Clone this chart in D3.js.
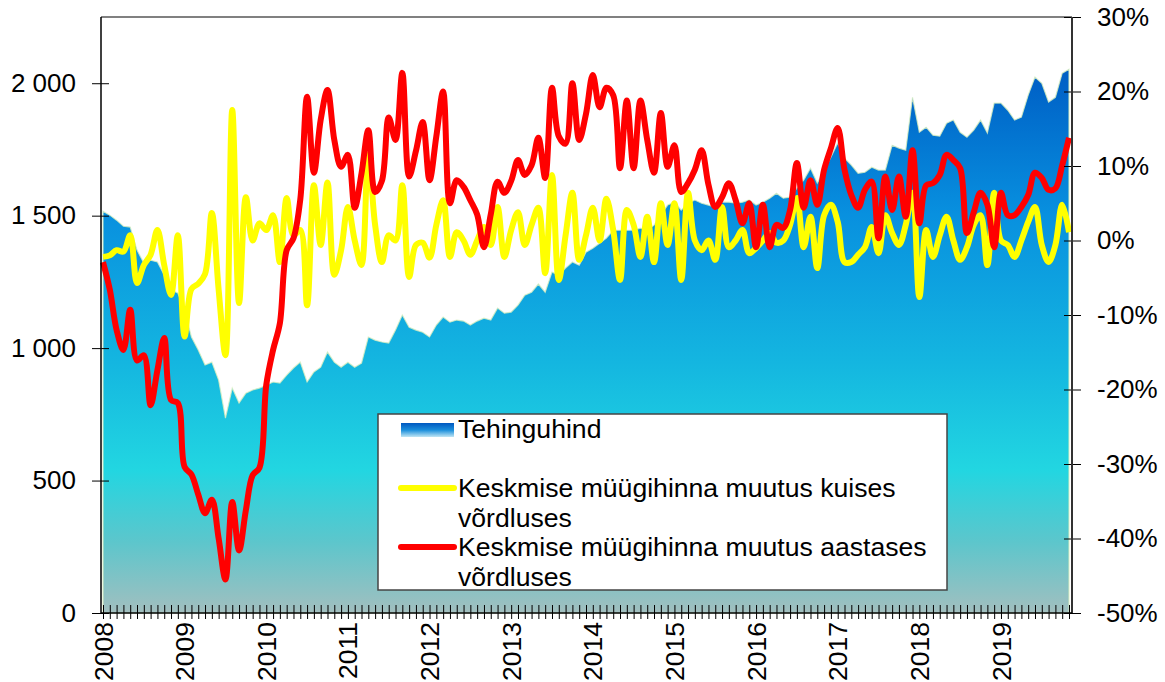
<!DOCTYPE html>
<html>
<head>
<meta charset="utf-8">
<script src="https://cdn.jsdelivr.net/npm/d3@7"></script>
<style>
  body { margin: 0; background: #fff; }
  svg { display: block; font-family: "Liberation Sans", Arial, sans-serif; }
</style>
</head>
<body>
<svg id="chart" width="1165" height="682"></svg>
<script>
// ---------- DATA ----------
const yearLabels = ["2008","2009","2010","2011","2012","2013","2014","2015","2016","2017","2018","2019"];
const leftTicks = [0, 500, 1000, 1500, 2000];
const rightTicks = [-50, -40, -30, -20, -10, 0, 10, 20, 30];

// Tehinguhind (EUR/m2), monthly Jan 2008 – Nov 2019
const tehinguhind = [
  1517,1502,1483,1460,1457,1370,1321,1332,1325,1276,1219,1208,
  1143,1042,993,936,947,879,736,849,793,830,842,849,
  860,872,868,898,925,947,872,910,928,985,947,928,
  947,928,943,1042,1030,1023,1019,1068,1125,1079,1068,1060,
  1042,1087,1117,1098,1106,1102,1087,1102,1113,1106,1151,1132,
  1136,1162,1200,1211,1242,1211,1287,1276,1302,1325,1313,1362,
  1377,1396,1415,1445,1445,1445,1445,1453,1445,1464,1502,1540,
  1551,1521,1547,1559,1547,1540,1532,1551,1551,1547,1551,1559,
  1540,1551,1566,1585,1566,1570,1604,1634,1679,1623,1672,1721,
  1774,1717,1691,1660,1664,1683,1672,1672,1766,1755,1747,1947,
  1815,1834,1804,1800,1849,1861,1815,1796,1823,1861,1812,1925,
  1925,1898,1861,1872,1955,2023,2000,1929,1947,2038,2053
];
// Keskmise müügihinna muutus kuises võrdluses (%)
const kuine = [
  -2.2,-2.0,-1.3,-1.5,0.7,-5.7,-3.3,-1.9,1.4,-3.3,-7.3,0.7,
  -12.9,-6.5,-5.8,-4.5,3.7,-6.6,-15.4,17.5,-8.4,5.8,0,2.3,
  1.4,3.4,-2.9,5.7,0.7,1.4,-8.7,7.4,-0.6,7.8,-4.6,-1.3,
  4.5,0,-3.3,11.5,2.1,-2.9,0.7,0,7.4,-4.9,-0.6,-0.3,
  -2.3,2.1,5.4,-2.2,1.1,0,-1.9,0,1.8,-0.6,4.5,-2.2,
  1.4,3.8,-0.6,2.1,4.4,-4.4,8.8,-5.3,0.7,6.4,-2.6,0.7,
  4.4,0,5.6,1.4,-5.3,4.1,2.1,-2.2,3.2,-2.9,5.0,-0.6,
  5.0,-5.3,6.4,0,-1.3,0,-2.6,4.5,-0.9,0,1.4,-1.7,
  -1.0,0,1.0,-0.3,0,2.1,5.7,-0.9,3.2,-3.7,3.4,4.8,
  2.5,-2.9,-2.9,-1.9,-0.9,1.8,-1.7,3.4,1.0,-0.6,2.1,6.4,
  -7.6,1.4,-2.2,0.7,3.2,0,-2.6,-0.9,2.1,3.4,-3.3,6.4,
  0,-0.6,-2.2,0,2.5,4.5,-0.6,-2.9,-0.6,4.8,1.1
];
// Keskmise müügihinna muutus aastases võrdluses (%)
const aastane = [
  -2.9,-6.6,-12.0,-14.7,-9.3,-16.1,-15.4,-22.1,-17.4,-13.1,-21.4,-21.8,
  -30.4,-31.4,-34.1,-36.6,-34.8,-40.0,-45.5,-35.1,-41.6,-36.2,-31.5,-30.5,
  -19.4,-14.7,-11.1,-1.3,0.3,5.5,19.3,9.1,16.2,20.2,13.5,9.9,
  11.5,4.4,9.0,14.8,6.5,8.0,16.5,13.5,22.5,8.6,12.0,15.9,
  8.1,14.0,20.0,5.0,8.1,7.2,5.4,3.5,-0.9,3.5,7.9,6.4,
  8.0,10.8,8.8,10.1,13.8,8.4,20.5,14.0,13.0,21.1,13.5,17.0,
  22.2,17.9,20.5,19.5,9.7,18.8,9.7,18.8,13.5,9.1,17.1,9.9,
  12.8,6.5,7.7,9.5,12.1,7.5,4.5,5.8,7.7,5.4,2.3,5.0,
  -0.9,4.8,-0.9,2.1,1.7,4.1,10.4,4.4,8.1,4.8,9.5,12.4,
  15.1,9.5,6.1,4.4,6.8,7.9,0.3,8.6,4.1,8.6,3.2,12.1,
  2.3,7.4,7.7,8.8,11.5,10.8,9.7,1.0,3.8,6.4,4.8,-0.9,
  6.4,3.4,3.4,4.5,6.1,9.1,8.4,6.8,7.0,10.1,13.8
];
const legendLabels = [
  ["Tehinguhind"],
  ["Keskmise müügihinna muutus kuises", "võrdluses"],
  ["Keskmise müügihinna muutus aastases", "võrdluses"]
];

// month categories (labels only)
const months = [];
for (let k = 0; k < tehinguhind.length; k++) {
  months.push(yearLabels[Math.floor(k / 12)] + "-" + String(k % 12 + 1).padStart(2, "0"));
}

// ---------- LAYOUT ----------
const svg = d3.select("#chart");
const plotL = 101, plotR = 1072, plotT = 17, plotB = 613;

const x = d3.scaleLinear().domain([0, months.length - 1]).range([103, 1069]);
const yL = d3.scaleLinear().domain([0, 2250]).range([plotB, plotT]);
const yR = d3.scaleLinear().domain([-50, 30]).range([plotB, plotT]);

const defs = svg.append("defs");
const grad = defs.append("linearGradient").attr("id", "areaGrad")
  .attr("gradientUnits", "userSpaceOnUse")
  .attr("x1", 0).attr("x2", 0).attr("y1", plotT).attr("y2", plotB);
[[0, "#0052B8"], [0.12, "#0064C8"], [0.33, "#0890DF"], [0.58, "#14B6E0"],
 [0.76, "#22D6E1"], [0.88, "#5CC6CC"], [1, "#A2BFBF"]].forEach(([o, c]) =>
  grad.append("stop").attr("offset", o).attr("stop-color", c));

const lgGrad = defs.append("linearGradient").attr("id", "legGrad")
  .attr("x1", 0).attr("x2", 0).attr("y1", 0).attr("y2", 1);
[[0, "#0058C0"], [0.5, "#1A8EDC"], [1, "#C0E6F4"]].forEach(([o, c]) =>
  lgGrad.append("stop").attr("offset", o).attr("stop-color", c));

// ---------- AREA ----------
const area = d3.area()
  .x((d, k) => x(k))
  .y0(yL(0))
  .y1(d => yL(d));
svg.append("path").datum(tehinguhind)
  .attr("d", area)
  .attr("fill", "url(#areaGrad)")
  .attr("stroke", "#d8efc0")
  .attr("stroke-width", 1.2)
  .attr("stroke-opacity", 0.8);

// ---------- LINES ----------
const line = d3.line()
  .x((d, k) => x(k))
  .y(d => yR(d))
  .curve(d3.curveCatmullRom.alpha(0.5));

svg.append("path").datum(kuine)
  .attr("d", line)
  .attr("fill", "none")
  .attr("stroke", "#FFFF00")
  .attr("stroke-width", 6)
  .attr("stroke-linejoin", "round");

svg.append("path").datum(aastane)
  .attr("d", line)
  .attr("fill", "none")
  .attr("stroke", "#FF0000")
  .attr("stroke-width", 6)
  .attr("stroke-linejoin", "round");

// ---------- FRAME ----------
svg.append("line").attr("x1", plotL).attr("x2", plotR).attr("y1", plotT).attr("y2", plotT)
  .attr("stroke", "#808080").attr("stroke-width", 2);

// ---------- AXES ----------
const fmtLocale = d3.formatLocale({ decimal: ",", thousands: " ", grouping: [3], currency: ["", ""] });
const fmt = fmtLocale.format(",.0f");

const gL = svg.append("g").attr("transform", `translate(${plotL},0)`)
  .call(d3.axisLeft(yL).tickValues(leftTicks).tickFormat(fmt).tickSizeInner(9).tickSizeOuter(0).tickPadding(16));
gL.select(".domain").remove();
gL.append("line").attr("x1", 0).attr("x2", 0).attr("y1", plotT).attr("y2", plotB)
  .attr("stroke", "#000").attr("stroke-width", 1.5);
gL.selectAll(".tick").append("line").attr("x1", 0).attr("x2", 8).attr("stroke", "#000");
gL.selectAll(".tick text").attr("font-size", 26).attr("fill", "#000").attr("font-family", "Liberation Sans, Arial, sans-serif");

const gR = svg.append("g").attr("transform", `translate(${plotR},0)`)
  .call(d3.axisRight(yR).tickValues(rightTicks).tickFormat(d => d + "%").tickSizeInner(9).tickSizeOuter(0).tickPadding(16));
gR.select(".domain").remove();
gR.append("line").attr("x1", 0).attr("x2", 0).attr("y1", plotT).attr("y2", plotB)
  .attr("stroke", "#333").attr("stroke-width", 2);
gR.selectAll(".tick").append("line").attr("x1", 0).attr("x2", -8).attr("stroke", "#000");
gR.selectAll(".tick text").attr("font-size", 26).attr("fill", "#000").attr("font-family", "Liberation Sans, Arial, sans-serif");

const gB = svg.append("g").attr("transform", `translate(0,${plotB})`)
  .call(d3.axisBottom(x).tickValues(d3.range(months.length)).tickFormat("").tickSizeInner(6).tickSizeOuter(0));
gB.select(".domain").remove();
gB.append("line").attr("x1", plotL).attr("x2", plotR).attr("y1", 0).attr("y2", 0)
  .attr("stroke", "#000").attr("stroke-width", 1.5);
gB.selectAll(".tick").append("line").attr("y1", 0).attr("y2", -8).attr("stroke", "#000");

// year labels (rotated)
svg.append("g").selectAll("text")
  .data(yearLabels)
  .join("text")
  .attr("transform", (d, k) => `translate(${x(k * 12)},${plotB + 9}) rotate(-90)`)
  .attr("text-anchor", "end")
  .attr("dy", "0.36em")
  .attr("font-size", 26.5)
  .attr("fill", "#000")
  .text(d => d);

// ---------- LEGEND ----------
const leg = svg.append("g");
leg.append("rect").attr("x", 378).attr("y", 414).attr("width", 569).attr("height", 176)
  .attr("fill", "#fff").attr("stroke", "#444").attr("stroke-width", 1.5);
leg.append("rect").attr("x", 401).attr("y", 423).attr("width", 53).attr("height", 14)
  .attr("fill", "url(#legGrad)");
leg.append("line").attr("x1", 401).attr("x2", 454).attr("y1", 488).attr("y2", 488)
  .attr("stroke", "#FFFF00").attr("stroke-width", 6).attr("stroke-linecap", "round");
leg.append("line").attr("x1", 401).attr("x2", 454).attr("y1", 547).attr("y2", 547)
  .attr("stroke", "#FF0000").attr("stroke-width", 6).attr("stroke-linecap", "round");

const legY = [[438], [497, 527], [556, 586]];
legendLabels.forEach((lines, k) => {
  lines.forEach((t, j) => {
    leg.append("text").attr("x", 458).attr("y", legY[k][j])
      .attr("font-size", 26.6).attr("fill", "#000").text(t);
  });
});
</script>
</body>
</html>
